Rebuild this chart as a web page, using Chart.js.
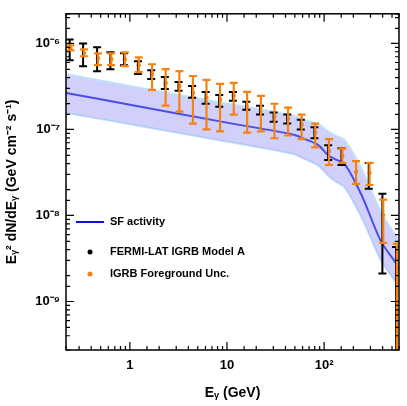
<!DOCTYPE html>
<html><head><meta charset="utf-8">
<script src="https://cdn.jsdelivr.net/npm/chart.js@4"></script>
<style>html,body{margin:0;padding:0;background:#fff}#w{width:407px;height:406px}</style>
</head><body><div id="w"><canvas id="c"></canvas></div>
<script>
const binE=[0.24,0.33,0.46,0.63,0.87,1.21,1.66,2.29,3.17,4.37,6.03,8.32,11.5,15.8,21.9,30.2,41.7,57.5,79.4,110,151,209,288,398,550];
const fermiC=[0.853,0.747,0.655,0.638,0.655,0.530,0.440,0.347,0.312,0.273,0.233,0.216,0.246,0.189,0.170,0.137,0.134,0.114,0.092,0.053,0.0479,null,0.029,0.0062,0.0025];
const fermiLo=[0.638,0.544,0.476,0.502,0.558,0.440,0.386,0.296,0.281,0.233,0.199,0.184,0.216,0.170,0.149,0.123,0.117,0.100,0.079,0.0441,0.0386,null,0.0205,0.00212,0.0002];
const fermiHi=[1.11,1.0,0.90,0.788,0.767,0.621,0.489,0.407,0.357,0.320,0.273,0.252,0.273,0.210,0.189,0.157,0.149,0.130,0.106,0.0657,0.0604,null,0.0408,0.0179,0.0043];
const fgC=[0.876,0.767,0.672,0.655,0.655,0.558,0.440,0.347,0.320,0.266,0.233,0.221,0.246,0.184,0.170,0.141,0.134,0.114,0.092,0.056,0.049,0.0322,0.0313,0.0100,0.0031];
const fgLo=[0.831,0.709,0.558,0.558,0.544,0.464,0.288,0.189,0.161,0.117,0.100,0.095,0.149,0.092,0.095,0.079,0.085,0.077,0.062,0.0386,0.0408,0.0233,0.0226,0.0048,0.0002];
const fgHi=[0.948,0.853,0.767,0.767,0.788,0.690,0.573,0.502,0.476,0.418,0.376,0.338,0.347,0.273,0.246,0.199,0.179,0.149,0.117,0.077,0.0604,0.0429,0.0408,0.0153,0.0047];
const sfE=[0.22,1,10,47.5,64,87,110,130,163,242,385,560,700];
const sfV=[0.266,0.194,0.120,0.0875,0.077,0.0657,0.050,0.045,0.0396,0.0174,0.0050,0.0027,0.0017];
const bandHi=[0.44,0.32,0.20,0.145,0.128,0.115,0.095,0.085,0.075,0.035,0.011,0.0055,0.0036];
const bandLo=[0.155,0.115,0.072,0.052,0.045,0.038,0.029,0.025,0.021,0.0095,0.003,0.0016,0.001];
const S=1e-6;
const pts=(xs,ys,dx=1)=>xs.map((x,i)=>ys[i]==null?null:{x:x*dx,y:ys[i]*S}).filter(p=>p);
const isDec=v=>Math.abs(Math.log10(v)-Math.round(Math.log10(v)))<1e-6;
const sup={'-':'⁻','0':'⁰','1':'¹','2':'²','3':'³','4':'⁴','5':'⁵','6':'⁶','7':'⁷','8':'⁸','9':'⁹'};
const pw=v=>{const e=Math.round(Math.log10(v));if(e===0)return '1';if(e===1)return '10';return '10'+String(e).split('').map(c=>sup[c]).join('');};

const errPlugin={id:'err',afterDatasetsDraw(ch){
  const ctx=ch.ctx,xs=ch.scales.x,ys=ch.scales.y,a=ch.chartArea;
  ctx.save();ctx.beginPath();ctx.rect(a.left,a.top,a.right-a.left,a.bottom-a.top);ctx.clip();
  const draw=(c,lo,hi,dx,col,lw)=>{ctx.strokeStyle=col;ctx.lineWidth=lw;
    c.forEach((v,i)=>{if(v==null)return;const x=xs.getPixelForValue(binE[i]*dx);
      const y1=ys.getPixelForValue(Math.max(lo[i]*S,1e-12)),y2=ys.getPixelForValue(hi[i]*S);
      ctx.beginPath();ctx.moveTo(x,y1);ctx.lineTo(x,y2);
      ctx.moveTo(x-4,y1);ctx.lineTo(x+4,y1);ctx.moveTo(x-4,y2);ctx.lineTo(x+4,y2);ctx.stroke();});};
  draw(fermiC,fermiLo,fermiHi,1,'#000',2);
  draw(fgC,fgLo,fgHi,1.02,'#f5820f',2.2);
  ctx.restore();
  ctx.save();ctx.strokeStyle='#000';ctx.lineWidth=1.5;
  ctx.strokeRect(a.left,a.top,a.right-a.left,a.bottom-a.top);
  ctx.lineWidth=1.2;
  xs.ticks.forEach(t=>{const x=xs.getPixelForValue(t.value);if(x<a.left||x>a.right)return;const L=isDec(t.value)?8:4;
    ctx.beginPath();ctx.moveTo(x,a.bottom);ctx.lineTo(x,a.bottom-L);ctx.moveTo(x,a.top);ctx.lineTo(x,a.top+L);ctx.stroke();});
  ys.ticks.forEach(t=>{const y=ys.getPixelForValue(t.value);if(y<a.top||y>a.bottom)return;const L=isDec(t.value)?8:4;
    ctx.beginPath();ctx.moveTo(a.left,y);ctx.lineTo(a.left+L,y);ctx.moveTo(a.right,y);ctx.lineTo(a.right-L,y);ctx.stroke();});
  ctx.font='bold 11px "Liberation Sans", Arial';ctx.fillStyle='#000';ctx.textBaseline='middle';
  ctx.strokeStyle='#1010e0';ctx.lineWidth=2;ctx.beginPath();ctx.moveTo(76,222);ctx.lineTo(104,222);ctx.stroke();
  ctx.fillText('SF activity',110,222);
  ctx.fillStyle='#000';ctx.beginPath();ctx.arc(90,252,2.5,0,7);ctx.fill();
  ctx.fillText('FERMI-LAT IGRB Model A',110,252);
  ctx.fillStyle='#f5820f';ctx.beginPath();ctx.arc(90,274,2.5,0,7);ctx.fill();
  ctx.fillStyle='#000';ctx.fillText('IGRB Foreground Unc.',110,274);
  ctx.restore();
}};

new Chart(document.getElementById('c'),{
  type:'scatter',
  data:{datasets:[
    {data:pts(sfE,bandHi),showLine:true,pointRadius:0,borderColor:'rgba(190,225,250,0.9)',borderWidth:2,backgroundColor:'rgba(150,150,245,0.45)',fill:'+1',tension:0.3},
    {data:pts(sfE,bandLo),showLine:true,pointRadius:0,borderColor:'rgba(190,225,250,0.9)',borderWidth:2,fill:false,tension:0.3},
    {data:pts(sfE,sfV),showLine:true,pointRadius:0,borderColor:'#1010e0',borderWidth:2,fill:false,tension:0.3},
    {data:pts(binE,fermiC),pointRadius:0,backgroundColor:'#000'},
    {data:pts(binE,fgC,1.02),pointRadius:2.2,pointBorderWidth:0,backgroundColor:'#f5820f'}
  ]},
  options:{responsive:true,maintainAspectRatio:false,animation:false,
    layout:{padding:{top:10,right:2,left:0,bottom:0}},
    plugins:{legend:{display:false},tooltip:{enabled:false}},
    scales:{
      x:{type:'logarithmic',min:0.22,max:590,grid:{display:false,drawTicks:false},border:{display:false},
        ticks:{autoSkip:false,maxRotation:0,padding:8,color:'#000',font:{family:'"Liberation Sans", Arial',size:13,weight:'bold'},callback:v=>isDec(v)?pw(v):''},
        title:{display:true,text:'Eᵧ (GeV)',color:'#000',font:{family:'"Liberation Sans", Arial',size:14,weight:'bold'},padding:{top:4}},
        afterFit:s=>{s.height=56;}},
      y:{type:'logarithmic',min:2.73e-10,max:2.21e-6,grid:{display:false,drawTicks:false},border:{display:false},
        ticks:{autoSkip:false,padding:6,color:'#000',font:{family:'"Liberation Sans", Arial',size:13,weight:'bold'},callback:v=>isDec(v)?pw(v):''},
        title:{display:true,text:'Eᵧ² dN/dEᵧ (GeV cm⁻² s⁻¹)',color:'#000',font:{family:'"Liberation Sans", Arial',size:14,weight:'bold'},padding:{bottom:2}},
        afterFit:s=>{s.width=66;}}
    }},
  plugins:[errPlugin]
});
</script></body></html>
